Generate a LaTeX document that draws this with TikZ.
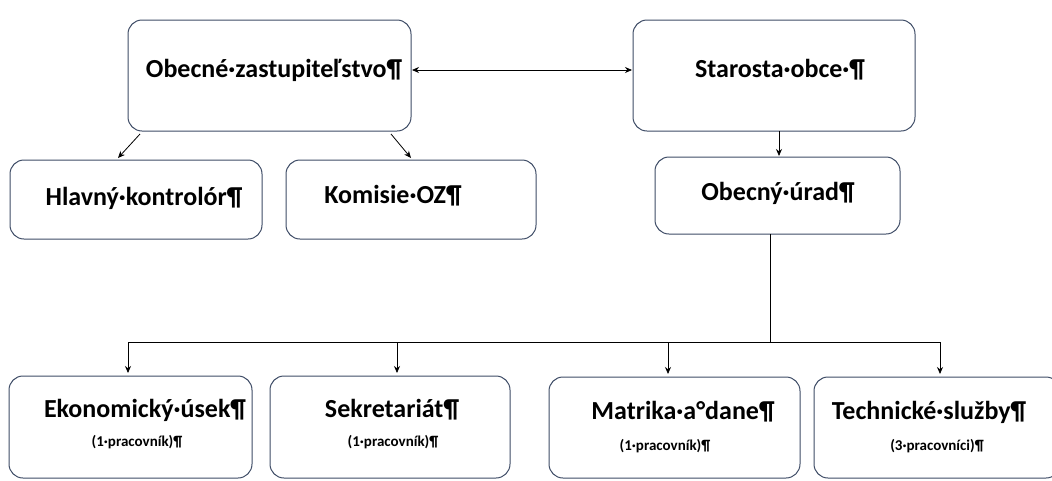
\documentclass[tikz,border=0pt]{standalone}
\usepackage{fontspec}
\setmainfont{Carlito}
\usetikzlibrary{arrows.meta}
\definecolor{boxc}{HTML}{3E4C66}
\tikzset{
  box/.style={draw=boxc, line width=1pt, rounded corners=14pt, fill=white},
  big/.style={font=\fontsize{26}{30}\selectfont\bfseries, inner sep=0pt},
  small/.style={font=\fontsize{15}{18}\selectfont\bfseries, inner sep=0pt},
  arr/.style={-{Stealth[length=7pt,width=6pt]}, line width=0.8pt},
  dbl/.style={{Stealth[length=7pt,width=6pt]}-{Stealth[length=7pt,width=6pt]}, line width=0.8pt},
  ln/.style={line width=0.8pt}
}
\begin{document}
\begin{tikzpicture}[x=1pt,y=-1pt]
\useasboundingbox (0,0) rectangle (1052,480);
% boxes
\draw[box] (128,20) rectangle (411,131);
\draw[box] (633,20) rectangle (915,131);
\draw[box] (10,160) rectangle (262,239);
\draw[box] (286,160) rectangle (536,239);
\draw[box] (655,157) rectangle (900,234);
\draw[box] (9,376) rectangle (252,478);
\draw[box] (270,376) rectangle (510,478);
\draw[box] (549,377) rectangle (800,478);
\draw[box] (814,377) rectangle (1060,478);
% texts
\node[big] (oz) at (274,70) {Obecné·zastupiteľstvo¶};
\node[big] (st) at (780,70) {Starosta·obce·¶};
\node[big] (hk) at (144,198) {Hlavný·kontrolór¶};
\node[big] (ko) at (393,196) {Komisie·OZ¶};
\node[big] (ou) at (778,193) {Obecný·úrad¶};
\node[big] (ek) at (145,410) {Ekonomický·úsek¶};
\node[small] (eks) at (137,442) {(1·pracovník)¶};
\node[big] (se) at (392,410) {Sekretariát¶};
\node[small] (ses) at (393,442) {(1·pracovník)¶};
\node[big] (ma) at (683,412) {Matrika·a°dane¶};
\node[small] (mas) at (665,446) {(1·pracovník)¶};
\node[big] (te) at (929,412) {Technické·služby¶};
\node[small] (tes) at (937,446) {(3·pracovníci)¶};
% anchor coordinates
\coordinate (ozR) at (412,70);
\coordinate (stL) at (632,70);
\coordinate (ozA) at (140,134);
\coordinate (hkT) at (118,158);
\coordinate (ozB) at (391,134);
\coordinate (koT) at (411,158);
\coordinate (stB) at (779,131);
\coordinate (ouT) at (779,156);
\coordinate (ouB) at (770,234);
\coordinate (bus) at (770,342);
\coordinate (b1) at (128,342);
\coordinate (b2) at (397,342);
\coordinate (b3) at (668,342);
\coordinate (b4) at (940,342);
\coordinate (e1) at (128,373);
\coordinate (e2) at (397,373);
\coordinate (e3) at (668,374);
\coordinate (e4) at (940,374);
% connectors
\draw[dbl] (ozR) -- (stL);
\draw[arr] (ozA) -- (hkT);
\draw[arr] (ozB) -- (koT);
\draw[arr] (stB) -- (ouT);
\draw[ln] (ouB) -- (bus);
\draw[ln] (b1) -- (b4);
\draw[arr] (b1) -- (e1);
\draw[arr] (b2) -- (e2);
\draw[arr] (b3) -- (e3);
\draw[arr] (b4) -- (e4);
\end{tikzpicture}
\end{document}
